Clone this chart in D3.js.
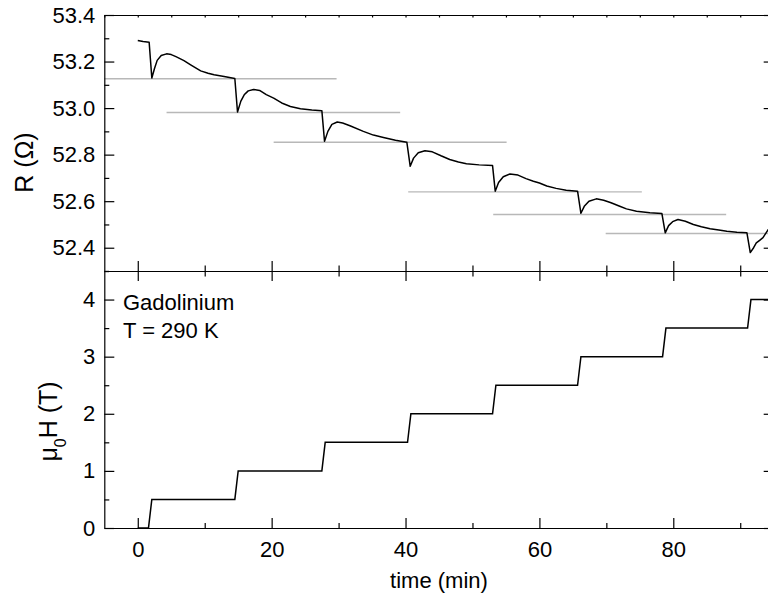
<!DOCTYPE html>
<html>
<head>
<meta charset="utf-8">
<script src="https://cdn.jsdelivr.net/npm/d3@7"></script>
<style>
  body { margin: 0; background: #fff; }
  svg { display: block; font-family: "Liberation Sans", Arial, sans-serif; }
</style>
</head>
<body>
<div id="chart"></div>
<script>
// Resistance trace (time in min, R in ohm).
const timeR = [0.0, 0.8, 1.7, 2.1, 2.5, 2.9, 3.5, 4.3, 5.0, 5.7, 6.9, 7.9, 9.4, 10.5, 11.4, 12.9, 14.5,
  14.9, 15.4, 15.9, 16.5, 17.3, 18.2, 19.2, 20.3, 21.5, 22.8, 24.3, 26.0, 27.5,
  27.9, 28.4, 29.0, 29.8, 30.6, 31.7, 33.7, 35.2, 36.7, 38.5, 40.2,
  40.7, 41.2, 41.9, 42.9, 44.0, 45.3, 46.6, 47.9, 49.1, 51.0, 53.0,
  53.4, 53.9, 54.6, 55.6, 56.8, 58.0, 59.1, 60.0, 61.1, 62.5, 64.0, 65.7,
  66.2, 66.7, 67.4, 68.5, 69.6, 70.7, 72.0, 73.0, 74.5, 76.5, 78.3,
  78.8, 79.3, 79.9, 80.7, 81.8, 83.0, 84.2, 85.5, 86.8, 88.0, 89.5, 91.0,
  91.5, 92.0, 92.4, 92.9, 93.4, 94.2];
const valR = [53.290, 53.286, 53.283, 53.129, 53.170, 53.205, 53.226, 53.233, 53.230, 53.221, 53.204, 53.186, 53.160, 53.150, 53.143, 53.136, 53.127,
  52.983, 53.030, 53.057, 53.074, 53.080, 53.076, 53.058, 53.043, 53.022, 53.007, 52.997, 52.992, 52.989,
  52.857, 52.900, 52.930, 52.940, 52.936, 52.924, 52.900, 52.884, 52.874, 52.862, 52.853,
  52.750, 52.785, 52.808, 52.817, 52.812, 52.795, 52.779, 52.768, 52.761, 52.756, 52.753,
  52.643, 52.680, 52.705, 52.717, 52.712, 52.697, 52.686, 52.678, 52.665, 52.655, 52.647, 52.643,
  52.548, 52.578, 52.600, 52.610, 52.604, 52.593, 52.578, 52.567, 52.557, 52.550, 52.547,
  52.464, 52.495, 52.512, 52.521, 52.514, 52.500, 52.490, 52.482, 52.476, 52.471, 52.467, 52.464,
  52.379, 52.400, 52.421, 52.432, 52.443, 52.479];

// Grey reference levels in the R panel.
const refLevel = [53.126, 52.981, 52.853, 52.640, 52.543, 52.461];
const refStart = [-5.3, 4.3, 20.3, 40.4, 53.1, 69.9];
const refEnd = [29.7, 39.2, 55.1, 75.3, 87.9, 104.9];

// Applied field steps (time in min, mu0H in T).
const timeH = [0.0, 1.6, 2.1, 14.5, 15.0, 27.5, 28.0, 40.3, 40.8, 53.0, 53.5, 65.7, 66.2, 78.4, 78.9, 91.1, 91.6, 95.0];
const valH = [0, 0, 0.5, 0.5, 1, 1, 1.5, 1.5, 2, 2, 2.5, 2.5, 3, 3, 3.5, 3.5, 4, 4];

// Axis ticks.
const timeMajor = [0, 20, 40, 60, 80];
const timeMinor = [10, 30, 50, 70, 90];
const timeTop = [-5, 0, 5, 10, 15, 20, 25, 30, 35, 40, 45, 50, 55, 60, 65, 70, 75, 80, 85, 90, 95];
const rMajor = [52.4, 52.6, 52.8, 53.0, 53.2, 53.4];
const rMinor = [52.3, 52.5, 52.7, 52.9, 53.1, 53.3];
const hMajor = [0, 1, 2, 3, 4];
const hMinor = [0.5, 1.5, 2.5, 3.5, 4.5];

const W = 768, H = 597;
const left = 104.3, right = 773.7;
const top1 = 15, bot1 = 271, bot2 = 528;
const fontSize = '22px';

const svg = d3.select('#chart').append('svg')
  .attr('width', W).attr('height', H);

const x = d3.scaleLinear().domain([-5, 95]).range([left, right]);
const yR = d3.scaleLinear().domain([52.3, 53.4]).range([bot1, top1]);
const yH = d3.scaleLinear().domain([0, 4.5]).range([bot2, bot1]);

// Helper: draw an axis with inward ticks; the domain line only once per edge.
function drawAxis(axis, transform, showLabels, showDomain) {
  const g = svg.append('g').attr('transform', transform).call(axis.tickSizeOuter(0));
  if (showDomain) {
    g.select('.domain').attr('stroke', '#000').attr('stroke-width', 1.2);
  } else {
    g.select('.domain').remove();
  }
  g.selectAll('.tick line').attr('stroke', '#000').attr('stroke-width', 1.2);
  g.selectAll('text').attr('font-size', fontSize).attr('fill', '#000')
    .attr('font-family', '"Liberation Sans", Arial, sans-serif');
  if (!showLabels) g.selectAll('text').remove();
  return g;
}

// Grey reference lines (clipped to the R panel).
svg.append('clipPath').attr('id', 'clipR').append('rect')
  .attr('x', left).attr('y', top1).attr('width', right - left).attr('height', bot1 - top1);

svg.append('g').attr('clip-path', 'url(#clipR)')
  .selectAll('line').data(refLevel).enter().append('line')
    .attr('x1', (d, i) => x(refStart[i]))
    .attr('x2', (d, i) => x(refEnd[i]))
    .attr('y1', d => yR(d)).attr('y2', d => yR(d))
    .attr('stroke', '#b8b8b8').attr('stroke-width', 1.4);

// R trace.
const lineR = d3.line().x(d => x(d[0])).y(d => yR(d[1]));
svg.append('path')
  .datum(timeR.map((t, i) => [t, valR[i]]))
  .attr('clip-path', 'url(#clipR)')
  .attr('d', lineR).attr('fill', 'none')
  .attr('stroke', '#000').attr('stroke-width', 1.5).attr('stroke-linejoin', 'round');

// Field trace.
const lineH = d3.line().x(d => x(d[0])).y(d => yH(d[1]));
svg.append('path')
  .datum(timeH.map((t, i) => [t, valH[i]]))
  .attr('d', lineH).attr('fill', 'none')
  .attr('stroke', '#000').attr('stroke-width', 1.5);

// Top panel axes.
drawAxis(d3.axisLeft(yR).tickValues(rMajor).tickSizeInner(-10).tickPadding(9).tickFormat(d3.format('.1f')),
  `translate(${left},0)`, true, true);
drawAxis(d3.axisLeft(yR).tickValues(rMinor).tickSizeInner(-5).tickFormat(''), `translate(${left},0)`, false, false);
drawAxis(d3.axisRight(yR).tickValues(rMajor).tickSizeInner(-10).tickFormat(''), `translate(${right},0)`, false, true);
drawAxis(d3.axisTop(x).tickValues(timeTop).tickSizeInner(-2.5).tickFormat(''), `translate(0,${top1})`, false, true);
drawAxis(d3.axisBottom(x).tickValues(timeMajor).tickSizeInner(-10).tickFormat(''), `translate(0,${bot1})`, false, true);
drawAxis(d3.axisBottom(x).tickValues(timeMinor).tickSizeInner(-5.5).tickFormat(''), `translate(0,${bot1})`, false, false);

// Bottom panel axes.
drawAxis(d3.axisTop(x).tickValues(timeMajor).tickSizeInner(-10).tickFormat(''), `translate(0,${bot1})`, false, false);
drawAxis(d3.axisTop(x).tickValues(timeMinor).tickSizeInner(-5.5).tickFormat(''), `translate(0,${bot1})`, false, false);
drawAxis(d3.axisLeft(yH).tickValues(hMajor).tickSizeInner(-10).tickPadding(9).tickFormat(d3.format('d')),
  `translate(${left},0)`, true, true);
drawAxis(d3.axisLeft(yH).tickValues(hMinor).tickSizeInner(-5).tickFormat(''), `translate(${left},0)`, false, false);
drawAxis(d3.axisRight(yH).tickValues(hMajor).tickSizeInner(-10).tickFormat(''), `translate(${right},0)`, false, true);
drawAxis(d3.axisBottom(x).tickValues(timeMajor).tickSizeInner(-10).tickPadding(13).tickFormat(d3.format('d')),
  `translate(0,${bot2})`, true, true);
drawAxis(d3.axisBottom(x).tickValues(timeMinor).tickSizeInner(-5).tickFormat(''), `translate(0,${bot2})`, false, false);

// Axis titles.
svg.append('text')
  .attr('x', (left + right) / 2).attr('y', 588)
  .attr('text-anchor', 'middle').attr('font-size', fontSize)
  .text('time (min)');

svg.append('text')
  .attr('transform', 'translate(33,162.5) rotate(-90)')
  .attr('text-anchor', 'middle').attr('font-size', '25px')
  .text('R (\u03A9)');

const hLabel = svg.append('text')
  .attr('transform', 'translate(57,421.5) rotate(-90)')
  .attr('text-anchor', 'middle').attr('font-size', '25px');
hLabel.append('tspan').text('\u03BC');
hLabel.append('tspan').attr('font-size', '16px').attr('dy', 9).text('0');
hLabel.append('tspan').attr('dy', -9).text('H (T)');

// Annotation.
svg.append('text').attr('x', 123).attr('y', 310).attr('font-size', fontSize).text('Gadolinium');
svg.append('text').attr('x', 123).attr('y', 337.5).attr('font-size', fontSize).text('T = 290 K');
</script>
</body>
</html>
